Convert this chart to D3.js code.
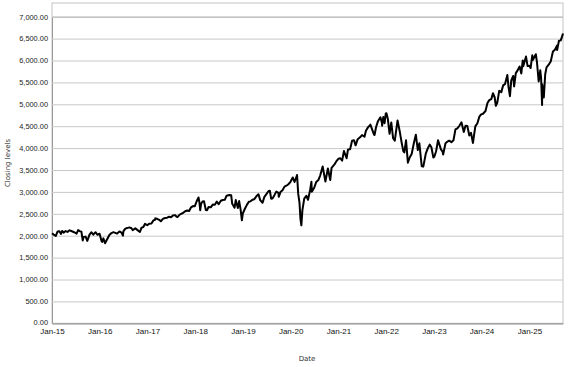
<!DOCTYPE html>
<html>
<head>
<meta charset="utf-8">
<script src="https://cdn.jsdelivr.net/npm/d3@7"></script>
<style>
  body { margin: 0; background: #fff; }
  svg { display: block; font-family: "DejaVu Sans", sans-serif; }
</style>
</head>
<body>
<svg id="chart"></svg>
<script>
// closing levels, [month-day, close]
const y2015 = [['01-02',2058],['01-16',2019],['01-30',1995],['02-13',2097],['02-27',2104],['03-11',2040],['03-20',2108],['03-31',2068],['04-15',2106],['04-30',2086],['05-15',2123],['05-29',2107],['06-15',2084],['06-30',2063],['07-08',2046],['07-20',2128],['07-31',2104],['08-14',2092],['08-24',1893],['08-31',1972],['09-15',1979],['09-28',1881],['10-15',2023],['10-30',2079],['11-13',2023],['11-30',2080],['12-14',2021],['12-31',2044]]
const y2016 = [['01-15',1880],['01-20',1859],['01-29',1940],['02-11',1829],['02-29',1932],['03-15',2015],['03-31',2060],['04-15',2081],['04-29',2065],['05-13',2047],['05-31',2097],['06-15',2072],['06-27',2001],['06-30',2099],['07-15',2162],['07-29',2174],['08-15',2190],['08-31',2171],['09-09',2128],['09-30',2168],['10-14',2133],['11-04',2085],['11-15',2180],['11-30',2199],['12-13',2271],['12-30',2239]]
const y2017 = [['01-13',2275],['01-31',2279],['02-15',2350],['02-28',2364],['03-01',2396],['03-15',2385],['03-31',2363],['04-13',2329],['04-28',2384],['05-15',2403],['05-31',2412],['06-15',2432],['06-30',2423],['07-14',2459],['07-31',2470],['08-10',2438],['08-18',2425],['08-31',2472],['09-15',2500],['09-29',2519],['10-13',2553],['10-31',2575],['11-15',2564],['11-30',2648],['12-15',2676],['12-29',2674]]
const y2018 = [['01-12',2786],['01-26',2873],['02-02',2762],['02-08',2581],['02-15',2731],['02-26',2780],['03-09',2786],['03-23',2588],['04-02',2582],['04-13',2656],['04-30',2648],['05-15',2711],['05-31',2705],['06-15',2780],['06-29',2718],['07-16',2798],['07-31',2816],['08-15',2818],['08-29',2914],['09-20',2931],['10-03',2925],['10-11',2728],['10-29',2641],['11-07',2814],['11-23',2633],['12-03',2790],['12-14',2600],['12-24',2351],['12-31',2507]]
const y2019 = [['01-15',2610],['01-31',2704],['02-15',2776],['02-28',2784],['03-15',2822],['03-29',2834],['04-15',2905],['04-30',2946],['05-13',2812],['05-31',2752],['06-14',2887],['06-28',2942],['07-15',3014],['07-26',3026],['08-05',2845],['08-15',2848],['08-30',2926],['09-13',3007],['09-30',2977],['10-02',2888],['10-15',2996],['10-31',3038],['11-15',3120],['11-29',3141],['12-13',3169],['12-31',3231]]
const y2020 = [['01-17',3330],['01-31',3226],['02-19',3386],['02-28',2954],['03-09',2747],['03-16',2386],['03-23',2237],['03-31',2585],['04-14',2846],['04-30',2912],['05-13',2820],['05-29',3044],['06-08',3232],['06-11',3002],['06-30',3100],['07-15',3227],['07-31',3271],['08-14',3373],['09-02',3580],['09-23',3237],['10-12',3534],['10-30',3270],['11-09',3550],['11-30',3622],['12-15',3695],['12-31',3756]]
const y2021 = [['01-15',3768],['01-29',3714],['02-12',3934],['03-04',3768],['03-15',3969],['03-31',3973],['04-15',4170],['04-30',4181],['05-12',4063],['05-28',4204],['06-15',4246],['06-30',4298],['07-19',4258],['07-30',4395],['08-16',4479],['08-31',4523],['09-02',4537],['09-30',4308],['10-04',4300],['10-15',4471],['10-29',4605],['11-18',4704],['11-30',4567],['12-01',4513],['12-10',4712],['12-20',4568],['12-29',4793]]
const y2022 = [['01-03',4796],['01-14',4662],['01-27',4326],['02-09',4587],['02-23',4225],['03-08',4170],['03-29',4631],['04-14',4392],['04-29',4132],['05-12',3930],['05-20',3901],['06-02',4177],['06-16',3667],['06-30',3785],['07-15',3863],['08-01',4118],['08-16',4305],['08-31',3955],['09-12',4110],['09-30',3586],['10-12',3577],['10-31',3872],['11-15',3992],['11-30',4080],['12-13',4019],['12-28',3783]]
const y2023 = [['01-05',3808],['01-18',3928],['02-02',4180],['02-24',3970],['03-09',3918],['03-13',3855],['03-31',4109],['04-18',4154],['04-28',4169],['05-15',4136],['05-31',4180],['06-15',4426],['06-30',4450],['07-14',4505],['07-31',4589],['08-18',4370],['08-31',4508],['09-14',4505],['09-29',4288],['10-12',4350],['10-27',4117],['11-14',4496],['11-30',4568],['12-15',4719],['12-29',4770]]
const y2024 = [['01-12',4784],['01-31',4846],['02-15',5030],['02-29',5096],['03-15',5117],['03-28',5254],['04-10',5161],['04-19',4967],['04-30',5036],['05-15',5308],['05-31',5278],['06-14',5432],['06-28',5460],['07-16',5667],['07-25',5399],['08-05',5186],['08-15',5543],['08-30',5648],['09-06',5408],['09-19',5713],['09-30',5762],['10-18',5864],['10-31',5705],['11-11',6001],['11-15',5870],['12-06',6090],['12-18',5872],['12-31',5882]]
const y2025 = [['01-10',5827],['01-23',6119],['01-27',6012],['02-19',6144],['02-28',5955],['03-13',5522],['03-25',5777],['03-31',5612],['04-03',5397],['04-08',4982],['04-09',5457],['04-21',5158],['05-02',5687],['05-12',5844],['05-30',5912],['06-13',5977],['06-30',6205],['07-15',6244],['07-31',6339],['08-01',6238],['08-15',6450],['08-29',6460],['09-12',6584],['09-15',6615]]

const years = { 2015: y2015, 2016: y2016, 2017: y2017, 2018: y2018, 2019: y2019, 2020: y2020,
  2021: y2021, 2022: y2022, 2023: y2023, 2024: y2024, 2025: y2025 }

// y axis ticks
const yTicks = [0, 500, 1000, 1500, 2000, 2500, 3000, 3500, 4000, 4500, 5000, 5500, 6000, 6500, 7000]

const W = 577
const H = 367
// plot frame
const LEFT = 52
const RIGHT = 563
const TOP = 3
const BOTTOM = 323.3

const parse = d3.timeParse('%Y-%m-%d')
const data = []
Object.keys(years).forEach((yr) => {
  years[yr].forEach(([md, v]) => data.push({ date: parse(`${yr}-${md}`), value: v }))
})

const svg = d3.select('#chart').attr('width', W).attr('height', H)

const x = d3.scaleTime()
  .domain([new Date(2015, 0, 1), data[data.length - 1].date])
  .range([LEFT, RIGHT])

const y = d3.scaleLinear()
  .domain([0, 7000])
  .range([BOTTOM, 16.7])

// frame
svg.append('rect')
  .attr('x', LEFT).attr('y', TOP)
  .attr('width', RIGHT - LEFT).attr('height', BOTTOM - TOP)
  .attr('fill', '#fff')
  .attr('stroke', '#c4c4c4')

// horizontal grid + y labels
const yAxis = d3.axisLeft(y)
  .tickValues(yTicks)
  .tickSize(-(RIGHT - LEFT))
  .tickPadding(4)
  .tickFormat(d3.format(',.2f'))

svg.append('g')
  .attr('transform', `translate(${LEFT},0)`)
  .call(yAxis)
  .call((g) => {
    g.select('.domain').attr('stroke', '#999')
    g.selectAll('.tick line').attr('stroke', '#c8c8c8')
    g.selectAll('.tick text')
      .attr('fill', '#222')
      .style('font-size', '7.4px')
  })
  // lift the zero label a touch so it clears Jan-15
  .call((g) => g.selectAll('.tick').filter((d) => d === 0).select('text').attr('dy', '0.1em'))

// x axis
const xAxis = d3.axisBottom(x)
  .ticks(d3.timeYear.every(1))
  .tickSize(0)
  .tickPadding(5)
  .tickFormat(d3.timeFormat('Jan-%y'))

svg.append('g')
  .attr('transform', `translate(0,${BOTTOM})`)
  .call(xAxis)
  .call((g) => {
    g.select('.domain').attr('stroke', '#999')
    g.selectAll('.tick text')
      .attr('fill', '#111')
      .style('font-size', '8px')
  })

// the series
const line = d3.line()
  .x((d) => x(d.date))
  .y((d) => y(d.value))

svg.append('path')
  .datum(data)
  .attr('fill', 'none')
  .attr('stroke', '#000')
  .attr('stroke-width', 2)
  .attr('stroke-linejoin', 'round')
  .attr('d', line)

// axis titles
svg.append('text')
  .attr('transform', 'translate(10,163) rotate(-90)')
  .attr('text-anchor', 'middle')
  .attr('fill', '#333')
  .style('font-size', '7px')
  .text('Closing levels')

svg.append('text')
  .attr('x', 307).attr('y', 361)
  .attr('text-anchor', 'middle')
  .attr('fill', '#333')
  .style('font-size', '7px')
  .text('Date')
</script>
</body>
</html>
